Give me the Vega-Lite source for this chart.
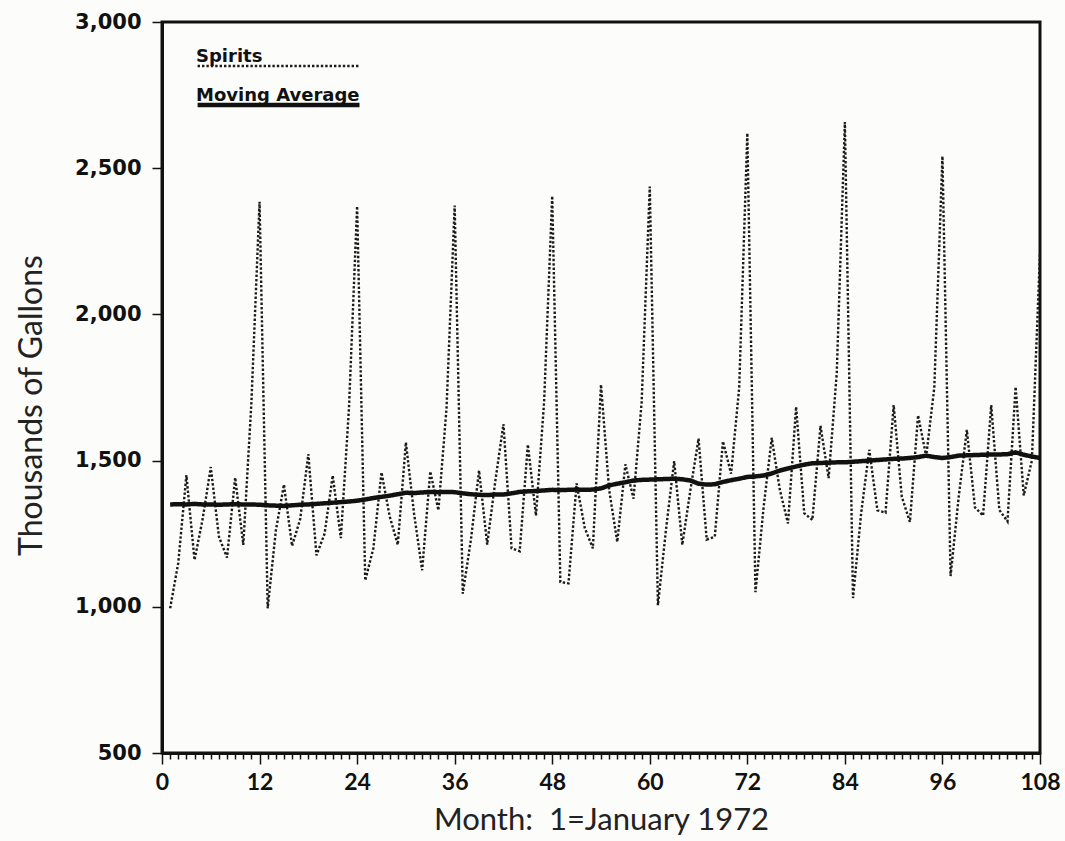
{
  "$schema": "https://vega.github.io/schema/vega-lite/v6.json",
  "width": 878,
  "height": 731,
  "autosize": {"type": "none"},
  "padding": {"left": 162, "top": 22, "right": 25, "bottom": 88},
  "background": "#fcfcfa",
  "config": {
    "view": {"stroke": "#111", "strokeWidth": 3},
    "axis": {"domainColor": "#111", "tickColor": "#111", "labelColor": "#111", "titleColor": "#222", "grid": false},
    "legend": {
      "orient": "none", "legendX": 33, "legendY": 27, "title": null,
      "symbolType": "stroke", "symbolSize": 44000, "clipHeight": 34, "rowPadding": 4,
      "labelOffset": -214, "labelBaseline": "bottom", "labelLimit": 400,
      "labelFont": "DejaVu Sans", "labelFontSize": 18, "labelFontWeight": "bold", "labelColor": "#111"
    }
  },
  "data": {"values": [
    {"m":1,"Spirits":995,"Moving Average":1350},{"m":2,"Spirits":1150,"Moving Average":1351},{"m":3,"Spirits":1450,"Moving Average":1350},{"m":4,"Spirits":1160,"Moving Average":1352},{"m":5,"Spirits":1300,"Moving Average":1350},{"m":6,"Spirits":1478,"Moving Average":1350},{"m":7,"Spirits":1240,"Moving Average":1349},{"m":8,"Spirits":1168,"Moving Average":1350},{"m":9,"Spirits":1442,"Moving Average":1351},{"m":10,"Spirits":1212,"Moving Average":1350},{"m":11,"Spirits":1700,"Moving Average":1350},{"m":12,"Spirits":2385,"Moving Average":1349},
    {"m":13,"Spirits":995,"Moving Average":1347},{"m":14,"Spirits":1260,"Moving Average":1346},{"m":15,"Spirits":1418,"Moving Average":1345},{"m":16,"Spirits":1208,"Moving Average":1347},{"m":17,"Spirits":1300,"Moving Average":1349},{"m":18,"Spirits":1522,"Moving Average":1350},{"m":19,"Spirits":1176,"Moving Average":1352},{"m":20,"Spirits":1250,"Moving Average":1354},{"m":21,"Spirits":1449,"Moving Average":1356},{"m":22,"Spirits":1235,"Moving Average":1358},{"m":23,"Spirits":1680,"Moving Average":1360},{"m":24,"Spirits":2370,"Moving Average":1363},
    {"m":25,"Spirits":1090,"Moving Average":1367},{"m":26,"Spirits":1200,"Moving Average":1372},{"m":27,"Spirits":1460,"Moving Average":1376},{"m":28,"Spirits":1310,"Moving Average":1380},{"m":29,"Spirits":1212,"Moving Average":1385},{"m":30,"Spirits":1562,"Moving Average":1390},{"m":31,"Spirits":1320,"Moving Average":1389},{"m":32,"Spirits":1125,"Moving Average":1391},{"m":33,"Spirits":1463,"Moving Average":1393},{"m":34,"Spirits":1330,"Moving Average":1392},{"m":35,"Spirits":1680,"Moving Average":1393},{"m":36,"Spirits":2372,"Moving Average":1392},
    {"m":37,"Spirits":1045,"Moving Average":1388},{"m":38,"Spirits":1230,"Moving Average":1385},{"m":39,"Spirits":1466,"Moving Average":1383},{"m":40,"Spirits":1213,"Moving Average":1382},{"m":41,"Spirits":1430,"Moving Average":1384},{"m":42,"Spirits":1625,"Moving Average":1384},{"m":43,"Spirits":1200,"Moving Average":1388},{"m":44,"Spirits":1190,"Moving Average":1393},{"m":45,"Spirits":1555,"Moving Average":1395},{"m":46,"Spirits":1312,"Moving Average":1396},{"m":47,"Spirits":1700,"Moving Average":1398},{"m":48,"Spirits":2405,"Moving Average":1400},
    {"m":49,"Spirits":1085,"Moving Average":1399},{"m":50,"Spirits":1080,"Moving Average":1400},{"m":51,"Spirits":1422,"Moving Average":1401},{"m":52,"Spirits":1270,"Moving Average":1400},{"m":53,"Spirits":1200,"Moving Average":1401},{"m":54,"Spirits":1760,"Moving Average":1405},{"m":55,"Spirits":1400,"Moving Average":1415},{"m":56,"Spirits":1222,"Moving Average":1421},{"m":57,"Spirits":1487,"Moving Average":1426},{"m":58,"Spirits":1370,"Moving Average":1432},{"m":59,"Spirits":1700,"Moving Average":1434},{"m":60,"Spirits":2437,"Moving Average":1435},
    {"m":61,"Spirits":1005,"Moving Average":1436},{"m":62,"Spirits":1265,"Moving Average":1437},{"m":63,"Spirits":1498,"Moving Average":1438},{"m":64,"Spirits":1212,"Moving Average":1436},{"m":65,"Spirits":1400,"Moving Average":1432},{"m":66,"Spirits":1575,"Moving Average":1421},{"m":67,"Spirits":1230,"Moving Average":1418},{"m":68,"Spirits":1240,"Moving Average":1419},{"m":69,"Spirits":1566,"Moving Average":1427},{"m":70,"Spirits":1455,"Moving Average":1433},{"m":71,"Spirits":1750,"Moving Average":1438},{"m":72,"Spirits":2620,"Moving Average":1444},
    {"m":73,"Spirits":1050,"Moving Average":1446},{"m":74,"Spirits":1340,"Moving Average":1449},{"m":75,"Spirits":1578,"Moving Average":1456},{"m":76,"Spirits":1400,"Moving Average":1466},{"m":77,"Spirits":1285,"Moving Average":1473},{"m":78,"Spirits":1684,"Moving Average":1480},{"m":79,"Spirits":1320,"Moving Average":1486},{"m":80,"Spirits":1297,"Moving Average":1491},{"m":81,"Spirits":1619,"Moving Average":1492},{"m":82,"Spirits":1440,"Moving Average":1493},{"m":83,"Spirits":1800,"Moving Average":1494},{"m":84,"Spirits":2658,"Moving Average":1494},
    {"m":85,"Spirits":1030,"Moving Average":1496},{"m":86,"Spirits":1320,"Moving Average":1498},{"m":87,"Spirits":1537,"Moving Average":1500},{"m":88,"Spirits":1330,"Moving Average":1502},{"m":89,"Spirits":1322,"Moving Average":1504},{"m":90,"Spirits":1690,"Moving Average":1506},{"m":91,"Spirits":1376,"Moving Average":1507},{"m":92,"Spirits":1290,"Moving Average":1509},{"m":93,"Spirits":1655,"Moving Average":1512},{"m":94,"Spirits":1515,"Moving Average":1517},{"m":95,"Spirits":1750,"Moving Average":1512},{"m":96,"Spirits":2541,"Moving Average":1509},
    {"m":97,"Spirits":1105,"Moving Average":1512},{"m":98,"Spirits":1376,"Moving Average":1517},{"m":99,"Spirits":1605,"Moving Average":1518},{"m":100,"Spirits":1340,"Moving Average":1519},{"m":101,"Spirits":1312,"Moving Average":1520},{"m":102,"Spirits":1690,"Moving Average":1521},{"m":103,"Spirits":1331,"Moving Average":1521},{"m":104,"Spirits":1292,"Moving Average":1522},{"m":105,"Spirits":1752,"Moving Average":1528},{"m":106,"Spirits":1381,"Moving Average":1520},{"m":107,"Spirits":1500,"Moving Average":1514},{"m":108,"Spirits":2210,"Moving Average":1509}
  ]},
  "transform": [{"fold": ["Spirits", "Moving Average"], "as": ["series", "value"]}],
  "mark": {"type": "line", "clip": true},
  "encoding": {
    "x": {
      "field": "m", "type": "quantitative",
      "scale": {"domain": [0, 108], "nice": false, "zero": false},
      "axis": {
        "title": "Month:\u00a0\u00a01=January 1972",
        "titleFont": "Lato", "titleFontSize": 31, "titleFontWeight": "normal", "titlePadding": 11,
        "tickCount": 108, "labelOverlap": false, "labelFlush": false,
        "labelExpr": "datum.value % 12 === 0 ? datum.value : ''",
        "tickSize": {"condition": {"test": "datum.value % 12 === 0", "value": 11}, "value": 6},
        "tickWidth": 1.5, "domainWidth": 3,
        "labelFont": "Lato", "labelFontSize": 23, "labelFontWeight": "bold", "labelPadding": 7
      }
    },
    "y": {
      "field": "value", "type": "quantitative",
      "scale": {"domain": [500, 3000], "nice": false, "zero": false},
      "axis": {
        "title": "Thousands of Gallons",
        "titleFont": "Lato", "titleFontSize": 32, "titleFontWeight": "normal", "titlePadding": 26, "titleY": 383,
        "values": [500, 1000, 1500, 2000, 2500, 3000], "format": ",.0f",
        "tickSize": 10, "tickWidth": 1.5, "domainWidth": 3,
        "labelFont": "DejaVu Sans", "labelFontSize": 21, "labelFontWeight": "bold", "labelPadding": 11
      }
    },
    "color": {
      "field": "series", "type": "nominal",
      "scale": {"domain": ["Spirits", "Moving Average"], "range": ["#1a1a1a", "#111111"]},
      "legend": {}
    },
    "strokeDash": {
      "field": "series", "type": "nominal",
      "scale": {"domain": ["Spirits", "Moving Average"], "range": [[2.4, 2], [1, 0]]},
      "legend": {}
    },
    "strokeWidth": {
      "field": "series", "type": "ordinal",
      "scale": {"domain": ["Spirits", "Moving Average"], "range": [2.4, 4.5]},
      "legend": {}
    }
  }
}
